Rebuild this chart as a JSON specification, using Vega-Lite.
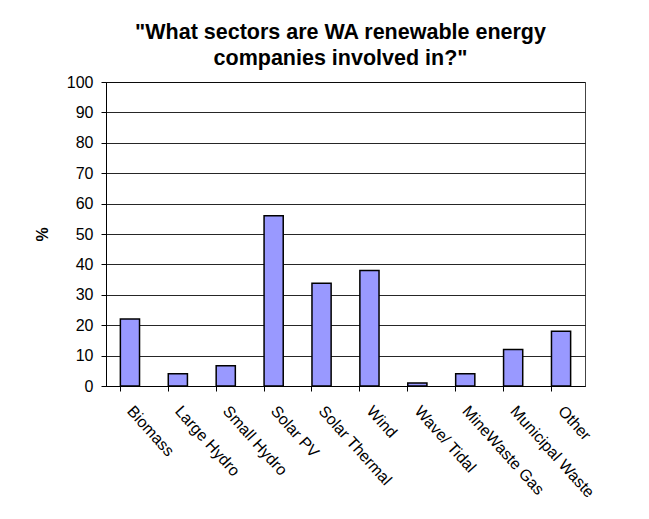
{
  "$schema": "https://vega.github.io/schema/vega-lite/v6.json",
  "autosize": "none",
  "width": 479,
  "height": 304,
  "padding": {"left": 106, "top": 82, "right": 64, "bottom": 133},
  "background": "white",
  "title": {
    "text": ["\"What sectors are WA renewable energy", "companies involved in?\""],
    "font": "Liberation Sans",
    "fontSize": 21.5,
    "fontWeight": "bold",
    "color": "black",
    "lineHeight": 26,
    "offset": 5,
    "dx": -5,
    "anchor": "middle"
  },
  "data": {
    "values": [
      {"sector": "Biomass", "pct": 22},
      {"sector": "Large Hydro", "pct": 4},
      {"sector": "Small Hydro", "pct": 6.7},
      {"sector": "Solar PV", "pct": 56},
      {"sector": "Solar Thermal", "pct": 33.8},
      {"sector": "Wind", "pct": 38},
      {"sector": "Wave/ Tidal", "pct": 1},
      {"sector": "MineWaste Gas", "pct": 4},
      {"sector": "Municipal Waste", "pct": 12},
      {"sector": "Other", "pct": 18}
    ]
  },
  "mark": {"type": "bar", "fill": "#9999FF", "stroke": "black", "strokeWidth": 1.5},
  "encoding": {
    "x": {
      "field": "sector",
      "type": "nominal",
      "sort": null,
      "scale": {"paddingInner": 0.6, "paddingOuter": 0.3},
      "axis": {
        "title": null,
        "labelAngle": 48,
        "labelAlign": "left",
        "labelBaseline": "middle",
        "labelPadding": 17,
        "labelFont": "Liberation Sans",
        "labelFontSize": 16,
        "labelColor": "black",
        "bandPosition": 0,
        "ticks": true,
        "tickSize": 5,
        "tickColor": "black",
        "domainColor": "black",
        "grid": false
      }
    },
    "y": {
      "field": "pct",
      "type": "quantitative",
      "scale": {"domain": [0, 100], "nice": false},
      "axis": {
        "title": "%",
        "titleFont": "Liberation Sans",
        "titleFontSize": 16,
        "titleFontWeight": "bold",
        "titleColor": "black",
        "titlePadding": 16,
        "values": [0, 10, 20, 30, 40, 50, 60, 70, 80, 90, 100],
        "labelFont": "Liberation Sans",
        "labelFontSize": 16,
        "labelColor": "black",
        "labelPadding": 8,
        "tickSize": 5,
        "tickColor": "black",
        "domainColor": "black",
        "grid": true,
        "gridColor": "black",
        "gridOpacity": 0.85
      }
    }
  },
  "config": {
    "view": {"stroke": "#444", "strokeWidth": 1},
    "axis": {"domainWidth": 1, "tickWidth": 1}
  }
}
